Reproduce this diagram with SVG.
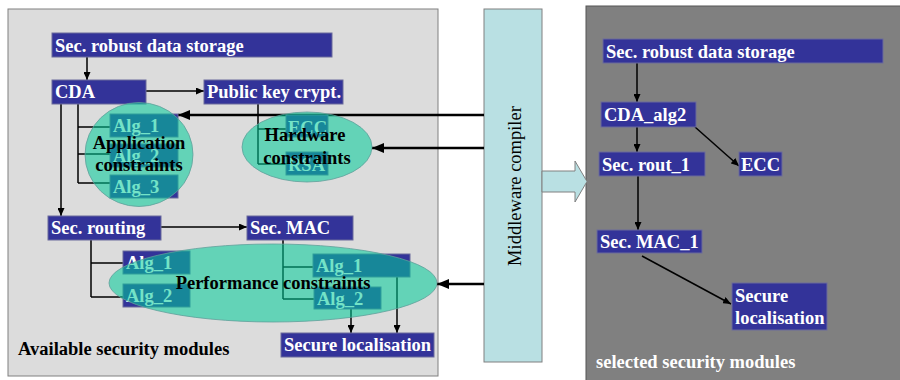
<svg xmlns="http://www.w3.org/2000/svg" width="900" height="380" viewBox="0 0 900 380">
<defs>
<marker id="ah" markerUnits="userSpaceOnUse" markerWidth="8" markerHeight="7" refX="8" refY="3.5" orient="auto"><path d="M0,0 L8,3.5 L0,7 z" fill="#000"/></marker>
<marker id="ahBig" markerUnits="userSpaceOnUse" markerWidth="12" markerHeight="10" refX="12" refY="5" orient="auto"><path d="M0,0 L12,5 L0,10 z" fill="#000"/></marker>
<style>
.box{fill:#333399;stroke:#6b6b9b;stroke-width:1}
.t{font-family:"Liberation Serif","Times New Roman",serif;font-weight:bold;font-size:18.5px;fill:#fff}
.k{font-family:"Liberation Serif","Times New Roman",serif;font-weight:bold;font-size:18.5px;fill:#000}
.c{text-anchor:middle}
.con{fill:#00cc99;fill-opacity:0.55;stroke:#5f9f9a;stroke-width:0.8}
.ln{stroke:#000;stroke-width:1.5;fill:none}
.arr{stroke:#000;stroke-width:1.5;fill:none;marker-end:url(#ah)}
.big{stroke:#000;stroke-width:2.5;fill:none;marker-end:url(#ahBig)}
</style>
</defs>
<rect id="available-panel" x="8" y="9" width="430" height="367" fill="#dcdcdc" stroke="#808080"/>
<rect id="selected-panel" x="586" y="6" width="320" height="380" fill="#808080" stroke="#555"/>
<g id="middleware">
<rect x="484" y="9" width="58" height="353" fill="#b9e0e3" stroke="#808080"/>
<text transform="translate(521,186) rotate(-90)" text-anchor="middle" font-family="'Liberation Serif','Times New Roman',serif" font-size="18.5" fill="#000">Middleware compiler</text>
</g>
<polygon id="block-arrow" points="542,171 575,171 575,161 587,181.5 575,202 575,192 542,192" fill="#b9e0e3" stroke="#808080"/>
<g id="connectors">
<line class="arr" x1="87" y1="57" x2="87" y2="80"/>
<line class="arr" x1="146" y1="91" x2="204" y2="91"/>
<line class="arr" x1="61" y1="104" x2="61" y2="216"/>
<path class="ln" d="M78,104 V183 M78,127 H110 M78,154 H110 M78,183 H110"/>
<path class="ln" d="M258,104 V164 M258,129 H286 M258,164 H286"/>
<line class="arr" x1="161" y1="227" x2="247" y2="227"/>
<path class="ln" d="M91,240 V297 M91,263 H123 M91,297 H123"/>
<path class="ln" d="M283,240 V299 M283,267 H313 M283,299 H314"/>
<line class="arr" x1="351" y1="309" x2="351" y2="333"/>
<line class="arr" x1="397" y1="277" x2="397" y2="333"/>
<line class="big" x1="484" y1="115" x2="178" y2="115"/>
<line class="big" x1="484" y1="148" x2="372" y2="148"/>
<line class="big" x1="484" y1="284" x2="437" y2="284"/>
<line class="arr" x1="637" y1="63" x2="637" y2="102"/>
<line class="arr" x1="637" y1="127" x2="637" y2="152"/>
<line class="arr" x1="695" y1="127" x2="739" y2="166"/>
<line class="arr" x1="638" y1="176" x2="638" y2="230"/>
<line class="arr" x1="642" y1="256" x2="731" y2="304"/>
</g>
<g id="l-storage"><rect class="box" x="52" y="33" width="280" height="24"/><text class="t" x="55" y="52">Sec. robust data storage</text></g>
<g id="l-cda"><rect class="box" x="52" y="80" width="94" height="24"/><text class="t" x="55" y="98">CDA</text></g>
<g id="l-pkc"><rect class="box" x="204" y="80" width="139" height="24"/><text class="t" x="207" y="98">Public key crypt.</text></g>
<g id="l-cda-alg1"><rect class="box" x="110" y="114" width="68" height="23"/><text class="t" x="113" y="132">Alg_1</text></g>
<g id="l-cda-alg2"><rect class="box" x="110" y="144" width="68" height="23"/><text class="t" x="113" y="162">Alg_2</text></g>
<g id="l-cda-alg3"><rect class="box" x="110" y="175" width="68" height="23"/><text class="t" x="113" y="193">Alg_3</text></g>
<g id="l-ecc"><rect class="box" x="286" y="115" width="42" height="22"/><text class="t" x="288" y="134">ECC</text></g>
<g id="l-rsa"><rect class="box" x="286" y="152" width="42" height="23"/><text class="t" x="288" y="171">RSA</text></g>
<g id="l-routing"><rect class="box" x="48" y="216" width="113" height="24"/><text class="t" x="51" y="234">Sec. routing</text></g>
<g id="l-mac"><rect class="box" x="247" y="216" width="106" height="24"/><text class="t" x="250" y="234">Sec. MAC</text></g>
<g id="l-rout-alg1"><rect class="box" x="123" y="251" width="67" height="23"/><text class="t" x="126" y="269">Alg_1</text></g>
<g id="l-rout-alg2"><rect class="box" x="123" y="284" width="67" height="23"/><text class="t" x="126" y="302">Alg_2</text></g>
<g id="l-mac-alg1"><rect class="box" x="313" y="254" width="97" height="23"/><text class="t" x="316" y="272">Alg_1</text></g>
<g id="l-mac-alg2"><rect class="box" x="314" y="287" width="67" height="22"/><text class="t" x="317" y="305">Alg_2</text></g>
<g id="l-secloc"><rect class="box" x="281" y="333" width="153" height="24"/><text class="t" x="284" y="351">Secure localisation</text></g>
<g id="app-constraints"><ellipse class="con" cx="139" cy="154.5" rx="54" ry="52"/><text class="k c" x="139" y="149">Application</text><text class="k c" x="139" y="171">constraints</text></g>
<g id="hw-constraints"><ellipse class="con" cx="307" cy="147" rx="65" ry="35"/><text class="k c" x="305" y="141">Hardware</text><text class="k c" x="307" y="164">constraints</text></g>
<g id="perf-constraints"><ellipse class="con" cx="273" cy="283" rx="164" ry="39"/><text class="k c" x="273" y="289">Performance constraints</text></g>
<text id="available-label" class="k" x="18" y="355">Available security modules</text>
<g id="r-storage"><rect class="box" x="603" y="39" width="280" height="24"/><text class="t" x="606" y="58">Sec. robust data storage</text></g>
<g id="r-cda"><rect class="box" x="601" y="102" width="95" height="25"/><text class="t" x="604" y="121">CDA_alg2</text></g>
<g id="r-rout"><rect class="box" x="599" y="152" width="106" height="24"/><text class="t" x="602" y="171">Sec. rout_1</text></g>
<g id="r-ecc"><rect class="box" x="739" y="152" width="43" height="24"/><text class="t" x="741" y="171">ECC</text></g>
<g id="r-mac"><rect class="box" x="597" y="230" width="105" height="23"/><text class="t" x="600" y="248">Sec. MAC_1</text></g>
<g id="r-secloc"><rect class="box" x="732" y="283" width="95" height="47"/><text class="t" x="735" y="302">Secure</text><text class="t" x="735" y="324">localisation</text></g>
<text id="selected-label" class="t" x="596" y="368">selected security modules</text>
</svg>
